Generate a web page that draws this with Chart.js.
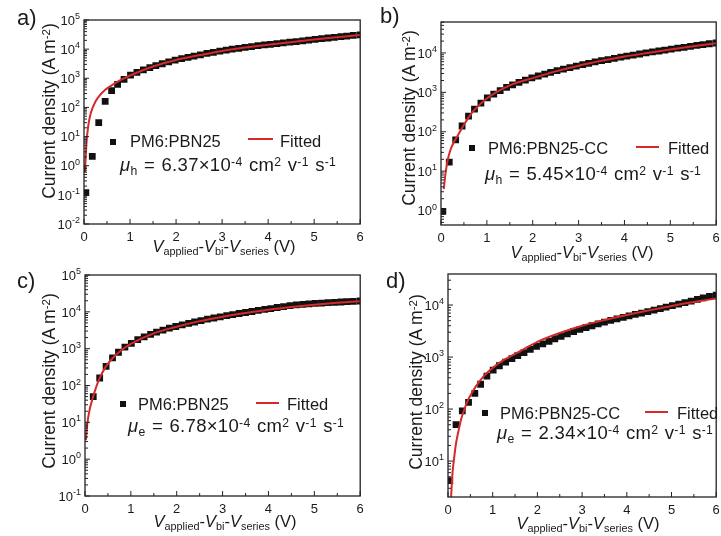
<!DOCTYPE html>
<html>
<head>
<meta charset="utf-8">
<script src="https://cdn.jsdelivr.net/npm/chart.js@4.4.1/dist/chart.umd.min.js"></script>
<style>
  html, body { margin: 0; padding: 0; background: #fff; }
  body { width: 721px; height: 536px; position: relative; overflow: hidden;
         font-family: "Liberation Sans", Arial, sans-serif; color: #1a1a1a; }
  canvas { position: absolute; }
  .t { position: absolute; white-space: nowrap; line-height: 1; }
  .sub { font-size: 0.66em; position: relative; top: 0.32em; }
  .sup { font-size: 0.66em; position: relative; top: -0.45em; }
  .lab { font-size: 22px; }
  .ytitle { font-size: 17.5px; transform: translate(-50%, -50%) rotate(-90deg); }
  .xtitle { font-size: 16.5px; transform: translateX(-50%); }
  .leg { font-size: 16.5px; }
  .mu { font-size: 18.5px; letter-spacing: 0.3px; word-spacing: 1px; }
  .sq { position: absolute; width: 6px; height: 6px; background: #111; }
  .rl { position: absolute; height: 2px; background: #d42a2a; }
</style>
</head>
<body>
<canvas id="ca"></canvas>
<canvas id="cb"></canvas>
<canvas id="cc"></canvas>
<canvas id="cd"></canvas>

<!-- panel labels -->
<div class="t lab" style="left:17px; top:7px;">a)</div>
<div class="t lab" style="left:380px; top:5px;">b)</div>
<div class="t lab" style="left:17px; top:270px;">c)</div>
<div class="t lab" style="left:386px; top:270px;">d)</div>

<!-- axis titles -->
<div class="t ytitle" style="left:50px; top:111px;">Current density (A m<span class="sup">-2</span>)</div>
<div class="t ytitle" style="left:410px; top:118px;">Current density (A m<span class="sup">-2</span>)</div>
<div class="t ytitle" style="left:50px; top:381px;">Current density (A m<span class="sup">-2</span>)</div>
<div class="t ytitle" style="left:417px; top:382px;">Current density (A m<span class="sup">-2</span>)</div>

<div class="t xtitle" style="left:224px; top:238px;"><i>V</i><span class="sub">applied</span>-<i>V</i><span class="sub">bi</span>-<i>V</i><span class="sub">series</span> (V)</div>
<div class="t xtitle" style="left:582px; top:244px;"><i>V</i><span class="sub">applied</span>-<i>V</i><span class="sub">bi</span>-<i>V</i><span class="sub">series</span> (V)</div>
<div class="t xtitle" style="left:225px; top:513px;"><i>V</i><span class="sub">applied</span>-<i>V</i><span class="sub">bi</span>-<i>V</i><span class="sub">series</span> (V)</div>
<div class="t xtitle" style="left:588px; top:515px;"><i>V</i><span class="sub">applied</span>-<i>V</i><span class="sub">bi</span>-<i>V</i><span class="sub">series</span> (V)</div>

<!-- legends -->
<div class="sq" style="left:110px; top:139px;"></div>
<div class="t leg" style="left:130px; top:133px;">PM6:PBN25</div>
<div class="rl" style="left:248px; top:138px; width:25px;"></div>
<div class="t leg" style="left:280px; top:133px;">Fitted</div>
<div class="t mu" style="left:120px; top:156px;"><i>μ</i><span class="sub">h</span> = 6.37×10<span class="sup">-4</span> cm<span class="sup">2</span> v<span class="sup">-1</span> s<span class="sup">-1</span></div>

<div class="sq" style="left:469px; top:145px;"></div>
<div class="t leg" style="left:488px; top:139.5px;">PM6:PBN25-CC</div>
<div class="rl" style="left:636px; top:146px; width:23px;"></div>
<div class="t leg" style="left:668px; top:139.5px;">Fitted</div>
<div class="t mu" style="left:485px; top:165px;"><i>μ</i><span class="sub">h</span> = 5.45×10<span class="sup">-4</span> cm<span class="sup">2</span> v<span class="sup">-1</span> s<span class="sup">-1</span></div>

<div class="sq" style="left:120px; top:401px;"></div>
<div class="t leg" style="left:138px; top:395.5px;">PM6:PBN25</div>
<div class="rl" style="left:256px; top:402px; width:23px;"></div>
<div class="t leg" style="left:287px; top:395.5px;">Fitted</div>
<div class="t mu" style="left:128px; top:417px;"><i>μ</i><span class="sub">e</span> = 6.78×10<span class="sup">-4</span> cm<span class="sup">2</span> v<span class="sup">-1</span> s<span class="sup">-1</span></div>

<div class="sq" style="left:482px; top:410px;"></div>
<div class="t leg" style="left:500px; top:404.5px;">PM6:PBN25-CC</div>
<div class="rl" style="left:645px; top:411px; width:23px;"></div>
<div class="t leg" style="left:677px; top:404.5px;">Fitted</div>
<div class="t mu" style="left:497px; top:424px;"><i>μ</i><span class="sub">e</span> = 2.34×10<span class="sup">-4</span> cm<span class="sup">2</span> v<span class="sup">-1</span> s<span class="sup">-1</span></div>

<script>
// Measured voltage points (V), shared by all four panels
const volts = [0.04, 0.18, 0.32, 0.46, 0.6, 0.73, 0.87, 1.01, 1.15, 1.29, 1.43, 1.56, 1.7, 1.84, 1.98,
  2.12, 2.26, 2.39, 2.53, 2.67, 2.81, 2.95, 3.09, 3.22, 3.36, 3.5, 3.64, 3.78, 3.92, 4.05, 4.19,
  4.33, 4.47, 4.61, 4.75, 4.88, 5.02, 5.16, 5.3, 5.44, 5.58, 5.71, 5.85, 6.0];

// Current density (A m^-2), measured
const jA = [0.12, 2.1, 30, 160, 375, 620, 920, 1280, 1600, 1950, 2330, 2700, 3150, 3650, 4200,
  4700, 5250, 5800, 6400, 7100, 7800, 8550, 9300, 10000, 10700, 11500, 12300, 13100, 13900, 14600, 15500,
  16300, 17300, 18200, 19300, 20400, 21600, 22800, 24100, 25400, 26700, 28000, 29500, 31000];
const jB = [0.95, 17, 62, 140, 250, 375, 530, 720, 900, 1100, 1330, 1550, 1800, 2050, 2320,
  2600, 2900, 3200, 3550, 3900, 4250, 4650, 5050, 5450, 5900, 6350, 6800, 7300, 7800, 8300, 8850,
  9400, 10000, 10600, 11200, 11800, 12500, 13200, 13900, 14700, 15500, 16300, 17100, 17900];
const jC = [null, 50, 160, 330, 560, 800, 1100, 1400, 1750, 2100, 2450, 2800, 3200, 3600, 4000,
  4400, 4850, 5300, 5800, 6300, 6800, 7300, 7850, 8400, 9000, 9600, 10200, 10900, 11600, 12300, 13100,
  13900, 14700, 15400, 16000, 16500, 16900, 17300, 17700, 18100, 18500, 18900, 19300, 19700];
const jD = [4.2, 50, 92, 135, 200, 300, 430, 560, 680, 800, 930, 1070, 1220, 1400, 1600,
  1800, 2000, 2250, 2500, 2800, 3100, 3400, 3700, 4000, 4350, 4700, 5050, 5400, 5800, 6200, 6600,
  7000, 7500, 8000, 8550, 9100, 9700, 10400, 11100, 11900, 12800, 13700, 14600, 15500];

// Fitted curves
const fitVA = [0.02, 0.04, 0.06, 0.09, 0.13, 0.18, 0.25, 0.35, 0.45, 0.55, 0.65, 0.8, 1.0, 1.5, 2, 2.5, 3, 3.5, 4, 4.5, 5, 5.5, 6];
const fitJA = [0.6, 2.5, 8, 22, 50, 90, 160, 270, 390, 510, 640, 880, 1250, 2550, 4250, 6200, 8700, 11300, 14200, 17400, 21300, 25600, 30500];
const fitVB = [0.06, 0.1, 0.15, 0.2, 0.27, 0.35, 0.5, 0.62, 0.75, 1.0, 1.5, 2, 2.5, 3, 3.5, 4, 4.5, 5, 5.5, 6];
const fitJB = [3.5, 9, 20, 33, 52, 75, 150, 250, 380, 700, 1500, 2300, 3400, 4750, 6300, 8100, 10000, 12200, 14700, 17600];
const fitVC = [0.02, 0.05, 0.1, 0.15, 0.2, 0.3, 0.45, 0.6, 0.8, 1.0, 1.5, 2, 2.5, 3, 3.5, 4, 4.5, 5, 5.5, 6];
const fitJC = [3.3, 9, 22, 38, 62, 140, 320, 550, 920, 1350, 2600, 3950, 5600, 7400, 9300, 11400, 13500, 15600, 17600, 19500];
const fitVD = [0.06, 0.08, 0.1, 0.14, 0.18, 0.24, 0.29, 0.36, 0.43, 0.52, 0.62, 0.8, 1.0, 1.25, 1.5, 2, 2.5, 3, 3.5, 4, 4.5, 5, 5.5, 6];
const fitJD = [1.5, 3, 5.8, 12, 22, 40, 62, 95, 138, 195, 270, 430, 620, 880, 1150, 1960, 2900, 4000, 5150, 6450, 7900, 9600, 11400, 13400];

// Tick labels
const xTickVals = [0, 1, 2, 3, 4, 5, 6];
const yExpsA = [-2, -1, 0, 1, 2, 3, 4, 5];
const yExpsB = [0, 1, 2, 3, 4];
const yExpsC = [-1, 0, 1, 2, 3, 4, 5];
const yExpsD = [1, 2, 3, 4];

const FONT = '"Liberation Sans", Arial, sans-serif';

// Boxed frame with inward ticks and 10^n labels
const frameAxes = {
  id: 'frameAxes',
  afterDatasetsDraw(chart, args, opts) {
    const { ctx, chartArea: a } = chart;
    const x = chart.scales.x, y = chart.scales.y;
    ctx.save();
    ctx.strokeStyle = '#222';
    ctx.lineWidth = 1.3;
    ctx.strokeRect(a.left, a.top, a.right - a.left, a.bottom - a.top);

    ctx.lineWidth = 1;
    ctx.beginPath();
    for (let i = 0; i < xTickVals.length; i++) {
      const px = x.getPixelForValue(xTickVals[i]);
      ctx.moveTo(px, a.bottom); ctx.lineTo(px, a.bottom - 5);
      if (i < xTickVals.length - 1) {
        const pm = x.getPixelForValue((xTickVals[i] + xTickVals[i + 1]) / 2);
        ctx.moveTo(pm, a.bottom); ctx.lineTo(pm, a.bottom - 3);
      }
    }
    const e0 = Math.floor(Math.log10(y.min)), e1 = Math.ceil(Math.log10(y.max));
    for (let e = e0; e <= e1; e++) {
      for (let k = 1; k <= 9; k++) {
        const v = k * Math.pow(10, e);
        if (v < y.min || v > y.max) continue;
        const py = y.getPixelForValue(v);
        ctx.moveTo(a.left, py); ctx.lineTo(a.left + (k === 1 ? 5 : 3), py);
      }
    }
    ctx.stroke();

    ctx.fillStyle = '#1a1a1a';
    ctx.font = '13px ' + FONT;
    ctx.textAlign = 'center';
    ctx.textBaseline = 'alphabetic';
    xTickVals.forEach(v => ctx.fillText(String(v), x.getPixelForValue(v), a.bottom + 16.5));

    ctx.textAlign = 'right';
    opts.exps.forEach(e => {
      const py = y.getPixelForValue(Math.pow(10, e));
      const ex = e < 0 ? '-' + Math.abs(e) : String(e);
      ctx.font = '9px ' + FONT;
      const w = ctx.measureText(ex).width;
      ctx.fillText(ex, a.left - 4, py - 1);
      ctx.font = '13px ' + FONT;
      ctx.fillText('10', a.left - 4 - w, py + 4.7);
    });
    ctx.restore();
  }
};

function makePanel(id, box, plot, jData, fitV, fitJ, yMin, yMax, exps) {
  const cv = document.getElementById(id);
  cv.width = box.w; cv.height = box.h;
  cv.style.left = box.x + 'px'; cv.style.top = box.y + 'px';
  const points = [];
  volts.forEach((v, i) => { if (jData[i] != null) points.push({ x: v, y: jData[i] }); });
  return new Chart(cv, {
    type: 'line',
    data: {
      datasets: [{
        data: fitV.map((v, i) => ({ x: v, y: fitJ[i] })),
        borderColor: '#d42a2a',
        borderWidth: 2,
        pointRadius: 0,
        cubicInterpolationMode: 'monotone',
        order: 0
      }, {
        data: points,
        showLine: false,
        pointStyle: 'rect',
        pointRadius: 4.8,
        pointBackgroundColor: '#111',
        pointBorderWidth: 0,
        order: 1
      }]
    },
    options: {
      responsive: false,
      animation: false,
      events: [],
      layout: {
        padding: {
          left: plot.l - box.x,
          top: plot.t - box.y,
          right: box.x + box.w - plot.r,
          bottom: box.y + box.h - plot.b
        }
      },
      scales: {
        x: { type: 'linear', min: 0, max: 6, display: false },
        y: { type: 'logarithmic', min: yMin, max: yMax, display: false }
      },
      plugins: {
        legend: { display: false },
        tooltip: { enabled: false },
        frameAxes: { exps: exps }
      }
    },
    plugins: [frameAxes]
  });
}

makePanel('ca', { x: 0, y: 0, w: 365, h: 262 }, { l: 84, t: 20, r: 362, b: 224 },
  jA, fitVA, fitJA, 0.01, 1e5, yExpsA);
makePanel('cb', { x: 365, y: 0, w: 356, h: 262 }, { l: 441, t: 22, r: 718, b: 225 },
  jB, fitVB, fitJB, 0.43, 61000, yExpsB);
makePanel('cc', { x: 0, y: 262, w: 365, h: 274 }, { l: 85, t: 275, r: 362, b: 496 },
  jC, fitVC, fitJC, 0.1, 1e5, yExpsC);
makePanel('cd', { x: 365, y: 262, w: 356, h: 274 }, { l: 448, t: 274, r: 720, b: 497 },
  jD, fitVD, fitJD, 2.04, 39500, yExpsD);
</script>
</body>
</html>
